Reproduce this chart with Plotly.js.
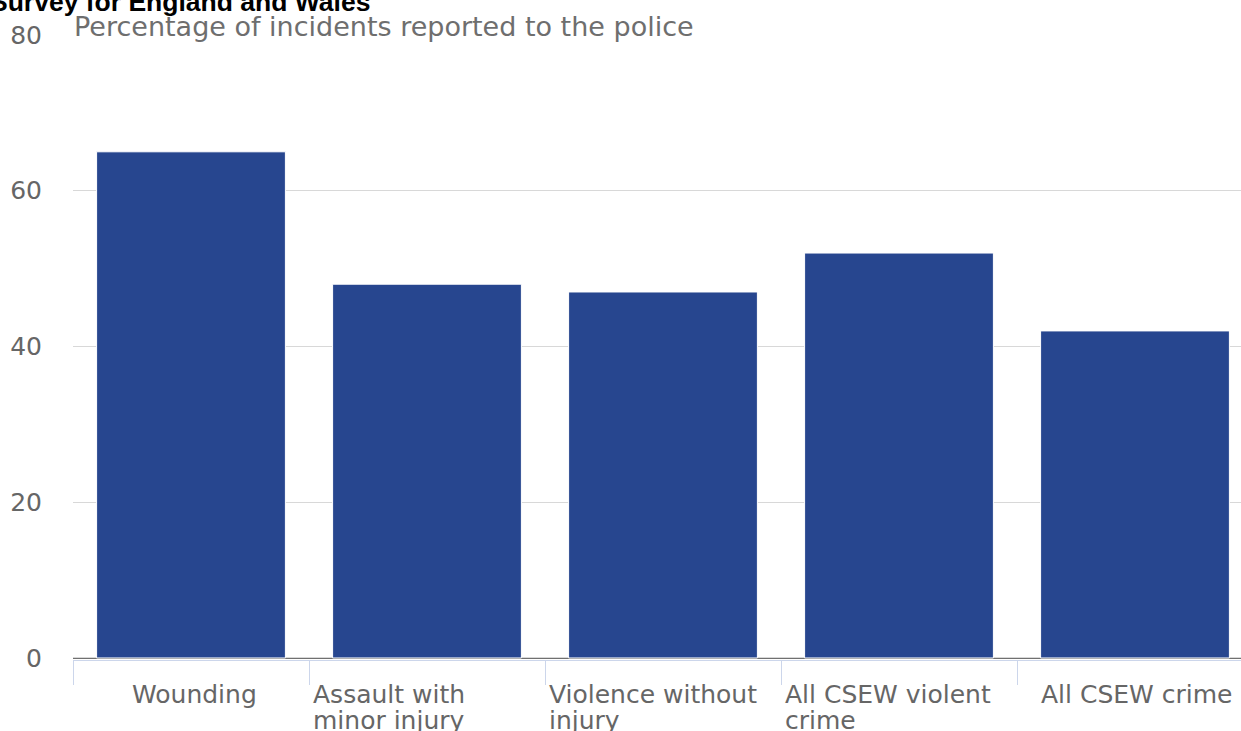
<!DOCTYPE html>
<html>
<head>
<meta charset="utf-8">
<script src="https://cdn.plot.ly/plotly-3.0.1.min.js"></script>
<style>
html,body{margin:0;padding:0;background:#fff;}
#chart{width:1241px;height:731px;}
</style>
</head>
<body>
<div id="chart"></div>
<script>
// ---- data ----
var categories = ["Wounding", "Assault with minor injury", "Violence without injury", "All CSEW violent crime", "All CSEW crime"];
var reportedPct = [65, 48, 47, 52, 42];
var labelLine1 = ["Wounding", "Assault with", "Violence without", "All CSEW violent", "All CSEW crime"];
var labelLine2 = ["", "minor injury", "injury", "crime", ""];
var yTicks = [0, 20, 40, 60, 80];
var titleText = "Survey for England and Wales";
var subtitleText = "Percentage of incidents reported to the police";

var FONT = "DejaVu Sans, Verdana, sans-serif";
var idx = categories.map(function(_, i){ return i; });

var trace = {
  type: "bar",
  x: idx,
  y: reportedPct,
  marker: {color: "#27468f", line: {color: "#ffffff", width: 1}},
  hoverinfo: "skip"
};

var annotations = [];
// category labels
idx.forEach(function(i){
  var twoLine = labelLine2[i] !== "";
  annotations.push({
    xref: "x", yref: "paper",
    x: twoLine ? i - 0.5 : i,
    xanchor: twoLine ? "left" : "center",
    xshift: twoLine ? 2 : (i === 0 ? 3 : 1),
    y: 0, yanchor: "top", yshift: -18,
    text: labelLine1[i], showarrow: false, align: "left",
    font: {family: FONT, size: 25, color: "#666666"}
  });
  if (twoLine) {
    annotations.push({
      xref: "x", yref: "paper",
      x: i - 0.5, xanchor: "left", xshift: 2,
      y: 0, yanchor: "top", yshift: -44,
      text: labelLine2[i], showarrow: false, align: "left",
      font: {family: FONT, size: 25, color: "#666666"}
    });
  }
});
// title (cut off at top)
annotations.push({
  xref: "paper", yref: "paper", x: (372 - 73) / 1168, xanchor: "right",
  y: 1, yanchor: "bottom", yshift: 16,
  text: "<b>" + titleText + "</b>", showarrow: false,
  font: {family: "Liberation Sans, Arial, sans-serif", size: 26.5, color: "#000000"}
});
// subtitle
annotations.push({
  xref: "paper", yref: "paper", x: 0, xanchor: "left", xshift: -1,
  y: 1, yanchor: "bottom", yshift: -9,
  text: subtitleText, showarrow: false,
  font: {family: FONT, size: 27, color: "#6e6e6e"}
});

var layout = {
  width: 1241, height: 731,
  margin: {l: 73, r: 0, t: 35, b: 71, pad: 0},
  paper_bgcolor: "#ffffff", plot_bgcolor: "#ffffff",
  showlegend: false,
  bargap: 0.2,
  font: {family: FONT, size: 25, color: "#666666"},
  xaxis: {
    type: "linear",
    range: [-0.5, -0.5 + 1168 / 236],
    tickvals: [-0.5, 0.5, 1.5, 2.5, 3.5, 4.5],
    showticklabels: false,
    ticks: "outside", ticklen: 24, tickwidth: 1, tickcolor: "#ccd6eb",
    showline: true, linecolor: "#ccd6eb", linewidth: 1,
    showgrid: false, zeroline: false, fixedrange: true
  },
  yaxis: {
    range: [-0.26, 80],
    tickvals: yTicks,
    ticktext: yTicks.map(String),
    tickfont: {family: FONT, size: 25, color: "#666666"},
    ticklabelstandoff: 30,
    showgrid: true, gridcolor: "#d8d8d8", gridwidth: 1,
    zeroline: false,
    showline: false, ticks: "", fixedrange: true
  },
  shapes: [{
    type: "line", layer: "below",
    xref: "paper", x0: 0, x1: 1,
    yref: "y", y0: 0, y1: 0,
    line: {color: "#707070", width: 2}
  }],
  annotations: annotations
};

Plotly.newPlot("chart", [trace], layout, {displayModeBar: false, staticPlot: true});
</script>
</body>
</html>
